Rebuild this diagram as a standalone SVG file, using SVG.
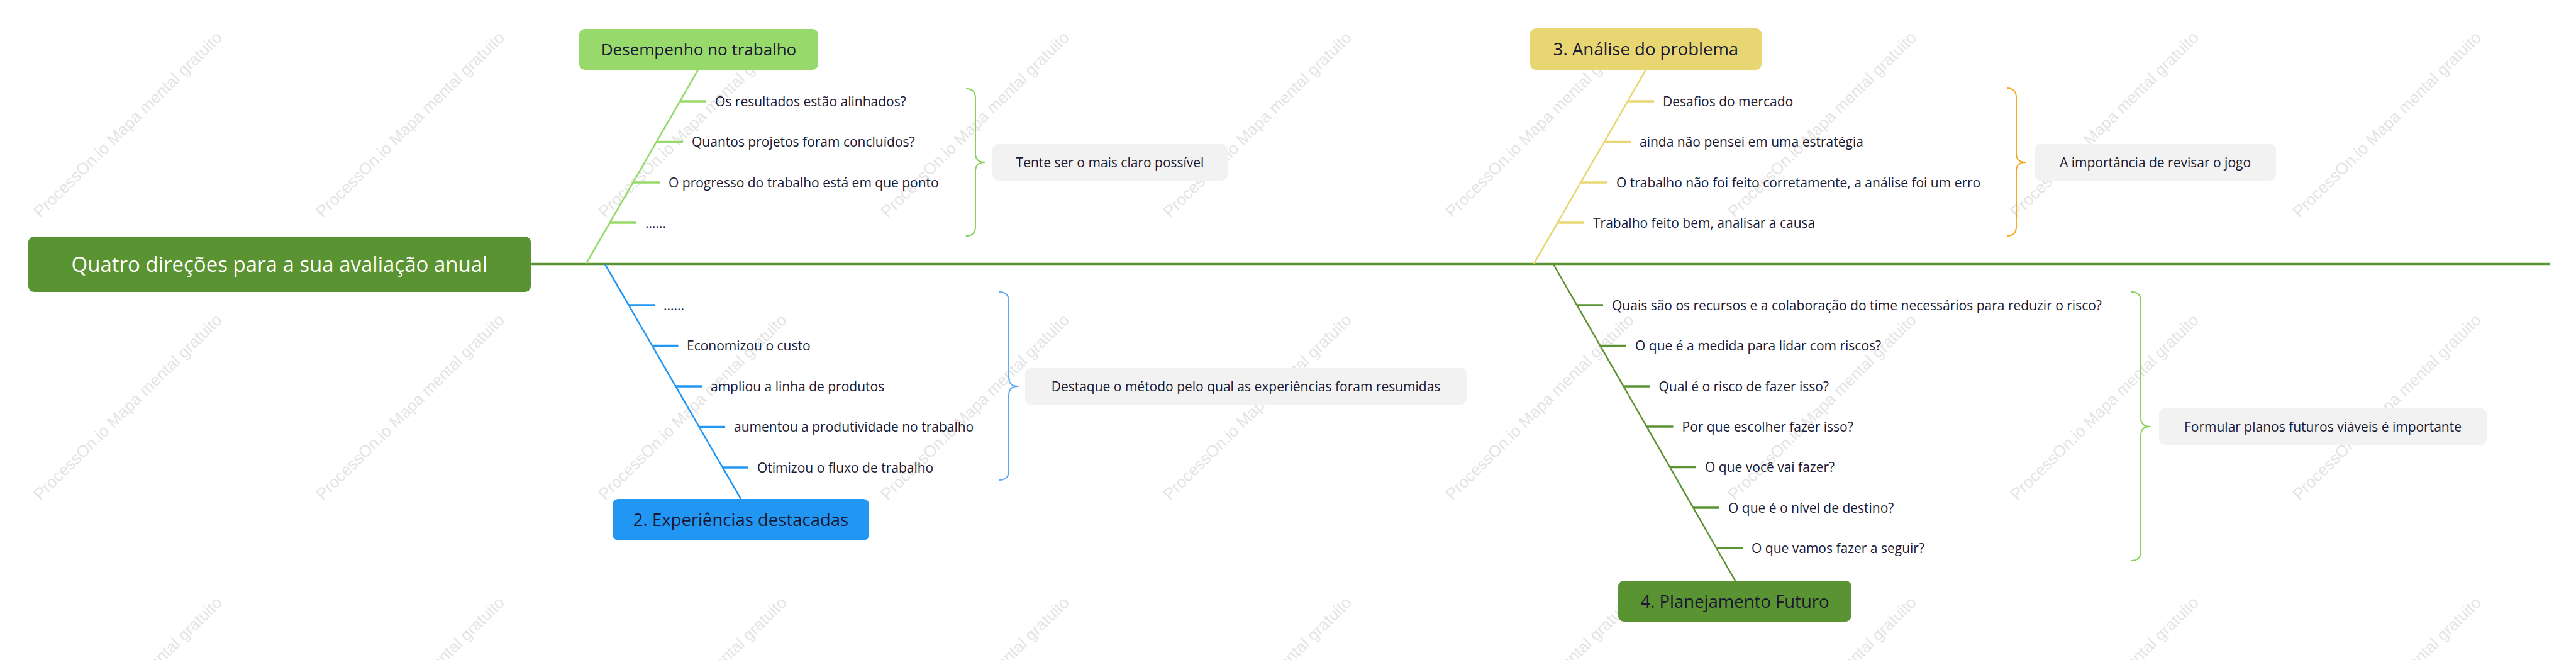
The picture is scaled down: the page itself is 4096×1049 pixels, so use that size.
<svg xmlns="http://www.w3.org/2000/svg" width="4096" height="1049" viewBox="0 0 4096 1049">
<style>
  .wm { font-family: "Liberation Sans", Arial, sans-serif; font-size: 26px; fill: #e4e4e4; }
  .t { font-family: "Open Sans", "Noto Sans", sans-serif; fill: #191933; }
  .item { font-size: 21px; }
  .head { font-size: 27.5px; }
  .sum { fill: #f2f2f2; }
  .tick { stroke-width: 3.5; fill: none; }
  .br { stroke-width: 2.5; fill: none; }
  .brace { stroke-width: 2; fill: none; stroke-linejoin: round; }
</style>
<rect width="4096" height="1049" fill="#ffffff"/>
<g id="watermarks">
  <g transform="translate(64,347) rotate(-44.5)"><text class="wm">ProcessOn.io Mapa mental gratuito</text></g>
  <g transform="translate(513,347) rotate(-44.5)"><text class="wm">ProcessOn.io Mapa mental gratuito</text></g>
  <g transform="translate(962,347) rotate(-44.5)"><text class="wm">ProcessOn.io Mapa mental gratuito</text></g>
  <g transform="translate(1411,347) rotate(-44.5)"><text class="wm">ProcessOn.io Mapa mental gratuito</text></g>
  <g transform="translate(1860,347) rotate(-44.5)"><text class="wm">ProcessOn.io Mapa mental gratuito</text></g>
  <g transform="translate(2309,347) rotate(-44.5)"><text class="wm">ProcessOn.io Mapa mental gratuito</text></g>
  <g transform="translate(2758,347) rotate(-44.5)"><text class="wm">ProcessOn.io Mapa mental gratuito</text></g>
  <g transform="translate(3207,347) rotate(-44.5)"><text class="wm">ProcessOn.io Mapa mental gratuito</text></g>
  <g transform="translate(3656,347) rotate(-44.5)"><text class="wm">ProcessOn.io Mapa mental gratuito</text></g>
  <g transform="translate(64,796) rotate(-44.5)"><text class="wm">ProcessOn.io Mapa mental gratuito</text></g>
  <g transform="translate(513,796) rotate(-44.5)"><text class="wm">ProcessOn.io Mapa mental gratuito</text></g>
  <g transform="translate(962,796) rotate(-44.5)"><text class="wm">ProcessOn.io Mapa mental gratuito</text></g>
  <g transform="translate(1411,796) rotate(-44.5)"><text class="wm">ProcessOn.io Mapa mental gratuito</text></g>
  <g transform="translate(1860,796) rotate(-44.5)"><text class="wm">ProcessOn.io Mapa mental gratuito</text></g>
  <g transform="translate(2309,796) rotate(-44.5)"><text class="wm">ProcessOn.io Mapa mental gratuito</text></g>
  <g transform="translate(2758,796) rotate(-44.5)"><text class="wm">ProcessOn.io Mapa mental gratuito</text></g>
  <g transform="translate(3207,796) rotate(-44.5)"><text class="wm">ProcessOn.io Mapa mental gratuito</text></g>
  <g transform="translate(3656,796) rotate(-44.5)"><text class="wm">ProcessOn.io Mapa mental gratuito</text></g>
  <g transform="translate(64,1245) rotate(-44.5)"><text class="wm">ProcessOn.io Mapa mental gratuito</text></g>
  <g transform="translate(513,1245) rotate(-44.5)"><text class="wm">ProcessOn.io Mapa mental gratuito</text></g>
  <g transform="translate(962,1245) rotate(-44.5)"><text class="wm">ProcessOn.io Mapa mental gratuito</text></g>
  <g transform="translate(1411,1245) rotate(-44.5)"><text class="wm">ProcessOn.io Mapa mental gratuito</text></g>
  <g transform="translate(1860,1245) rotate(-44.5)"><text class="wm">ProcessOn.io Mapa mental gratuito</text></g>
  <g transform="translate(2309,1245) rotate(-44.5)"><text class="wm">ProcessOn.io Mapa mental gratuito</text></g>
  <g transform="translate(2758,1245) rotate(-44.5)"><text class="wm">ProcessOn.io Mapa mental gratuito</text></g>
  <g transform="translate(3207,1245) rotate(-44.5)"><text class="wm">ProcessOn.io Mapa mental gratuito</text></g>
  <g transform="translate(3656,1245) rotate(-44.5)"><text class="wm">ProcessOn.io Mapa mental gratuito</text></g>
</g>

<g id="connectors">
  <line x1="844" y1="419.5" x2="4054" y2="419.5" stroke="#5b9332" stroke-width="3.5"/>
  <!-- branch 1 light green -->
  <line class="br" x1="1110" y1="111" x2="932" y2="419" stroke="#96d86a"/>
  <g stroke="#96d86a" class="tick">
    <line x1="1081" y1="161" x2="1123" y2="161"/>
    <line x1="1044" y1="225.5" x2="1086" y2="225.5"/>
    <line x1="1007" y1="290" x2="1049" y2="290"/>
    <line x1="970" y1="354" x2="1012" y2="354"/>
  </g>
  <path class="brace" stroke="#86d058" d="M1536 141 Q1551 141 1551 156 L1551 244 Q1551 258 1566 258 Q1551 258 1551 272 L1551 360 Q1551 375 1536 375"/>
  <!-- branch 3 yellow -->
  <line class="br" x1="2617" y1="111" x2="2439" y2="419" stroke="#e8d672"/>
  <g stroke="#e8d672" class="tick">
    <line x1="2588" y1="161" x2="2630" y2="161"/>
    <line x1="2551" y1="225.5" x2="2593" y2="225.5"/>
    <line x1="2514" y1="290" x2="2556" y2="290"/>
    <line x1="2477" y1="354" x2="2519" y2="354"/>
  </g>
  <path class="brace" stroke="#f5a623" d="M3191 140 Q3206 140 3206 155 L3206 244 Q3206 258 3221 258 Q3206 258 3206 272 L3206 360 Q3206 375 3191 375"/>
  <!-- branch 2 blue -->
  <line class="br" x1="962" y1="420" x2="1178" y2="793" stroke="#2196f3"/>
  <g stroke="#2196f3" class="tick">
    <line x1="999.5" y1="485" x2="1041.5" y2="485"/>
    <line x1="1036.5" y1="549.5" x2="1078.5" y2="549.5"/>
    <line x1="1074" y1="614" x2="1116" y2="614"/>
    <line x1="1111" y1="678.5" x2="1153" y2="678.5"/>
    <line x1="1148" y1="743" x2="1190" y2="743"/>
  </g>
  <path class="brace" stroke="#5fa8ee" d="M1589 464 Q1604 464 1604 479 L1604 600 Q1604 614 1619 614 Q1604 614 1604 628 L1604 748 Q1604 763 1589 763"/>
  <!-- branch 4 dark green -->
  <line class="br" x1="2470" y1="420" x2="2759" y2="923" stroke="#5b9332"/>
  <g stroke="#5b9332" class="tick">
    <line x1="2507" y1="485" x2="2549" y2="485"/>
    <line x1="2544" y1="549.5" x2="2586" y2="549.5"/>
    <line x1="2581.5" y1="614" x2="2623.5" y2="614"/>
    <line x1="2618.5" y1="678" x2="2660.5" y2="678"/>
    <line x1="2655" y1="742.5" x2="2697" y2="742.5"/>
    <line x1="2692" y1="807" x2="2734" y2="807"/>
    <line x1="2729" y1="871" x2="2771" y2="871"/>
  </g>
  <path class="brace" stroke="#86d058" d="M3389 464 Q3404 464 3404 479 L3404 664 Q3404 678 3419 678 Q3404 678 3404 692 L3404 876 Q3404 891 3389 891"/>
</g>

<g id="root">
  <rect x="45" y="376" width="799" height="88" rx="9" fill="#5a9331"/>
  <text class="t" x="444.5" y="432" font-size="33" text-anchor="middle" style="fill:#ffffff">Quatro direções para a sua avaliação anual</text>
</g>

<g id="node-desempenho">
  <rect x="921" y="46" width="380" height="65" rx="9" fill="#98d96c"/>
  <text class="t" x="1111" y="88" font-size="26" text-anchor="middle">Desempenho no trabalho</text>
</g>
<g id="item-1-1"><text class="t item" x="1137" y="168.5">Os resultados estão alinhados?</text></g>
<g id="item-1-2"><text class="t item" x="1100" y="233">Quantos projetos foram concluídos?</text></g>
<g id="item-1-3"><text class="t item" x="1063" y="297.5">O progresso do trabalho está em que ponto</text></g>
<g id="item-1-4"><text class="t item" x="1026" y="361.5">......</text></g>
<g id="summary-1">
  <rect class="sum" x="1578" y="229" width="374" height="58" rx="9"/>
  <text class="t item" x="1765" y="265.5" text-anchor="middle">Tente ser o mais claro possível</text>
</g>

<g id="node-analise">
  <rect x="2433" y="45" width="368" height="66" rx="9" fill="#e8d672"/>
  <text class="t head" x="2617" y="88" text-anchor="middle">3. Análise do problema</text>
</g>
<g id="item-3-1"><text class="t item" x="2644" y="168.5">Desafios do mercado</text></g>
<g id="item-3-2"><text class="t item" x="2607" y="233">ainda não pensei em uma estratégia</text></g>
<g id="item-3-3"><text class="t item" x="2570" y="297.5">O trabalho não foi feito corretamente, a análise foi um erro</text></g>
<g id="item-3-4"><text class="t item" x="2533" y="361.5">Trabalho feito bem, analisar a causa</text></g>
<g id="summary-3">
  <rect class="sum" x="3235" y="229" width="384" height="58" rx="9"/>
  <text class="t item" x="3427" y="265.5" text-anchor="middle">A importância de revisar o jogo</text>
</g>

<g id="node-experiencias">
  <rect x="974" y="793" width="408" height="66" rx="9" fill="#2196f3"/>
  <text class="t head" x="1178" y="836" text-anchor="middle">2. Experiências destacadas</text>
</g>
<g id="item-2-1"><text class="t item" x="1055" y="492.5">......</text></g>
<g id="item-2-2"><text class="t item" x="1092" y="557">Economizou o custo</text></g>
<g id="item-2-3"><text class="t item" x="1130" y="621.5">ampliou a linha de produtos</text></g>
<g id="item-2-4"><text class="t item" x="1167" y="686">aumentou a produtividade no trabalho</text></g>
<g id="item-2-5"><text class="t item" x="1204" y="750.5">Otimizou o fluxo de trabalho</text></g>
<g id="summary-2">
  <rect class="sum" x="1630" y="585" width="702" height="58" rx="9"/>
  <text class="t item" x="1981" y="621.5" text-anchor="middle">Destaque o método pelo qual as experiências foram resumidas</text>
</g>

<g id="node-planejamento">
  <rect x="2573" y="923" width="371" height="65" rx="9" fill="#5a9331"/>
  <text class="t head" x="2758.5" y="965.5" text-anchor="middle">4. Planejamento Futuro</text>
</g>
<g id="item-4-1"><text class="t item" x="2563" y="492.5">Quais são os recursos e a colaboração do time necessários para reduzir o risco?</text></g>
<g id="item-4-2"><text class="t item" x="2600" y="557">O que é a medida para lidar com riscos?</text></g>
<g id="item-4-3"><text class="t item" x="2637.5" y="621.5">Qual é o risco de fazer isso?</text></g>
<g id="item-4-4"><text class="t item" x="2674.5" y="685.5">Por que escolher fazer isso?</text></g>
<g id="item-4-5"><text class="t item" x="2711" y="750">O que você vai fazer?</text></g>
<g id="item-4-6"><text class="t item" x="2748" y="814.5">O que é o nível de destino?</text></g>
<g id="item-4-7"><text class="t item" x="2785" y="878.5">O que vamos fazer a seguir?</text></g>
<g id="summary-4">
  <rect class="sum" x="3433" y="649" width="521" height="58" rx="9"/>
  <text class="t item" x="3693.5" y="685.5" text-anchor="middle">Formular planos futuros viáveis é importante</text>
</g>
</svg>
